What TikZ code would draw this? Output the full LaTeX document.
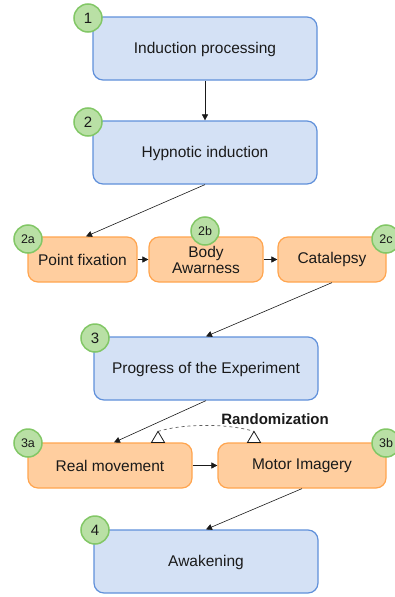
\documentclass[tikz,border=0pt]{standalone}
\usepackage{fontspec}
\setmainfont{Liberation Sans}
\usetikzlibrary{arrows.meta,calc}
\definecolor{bfill}{HTML}{D4E1F5}
\definecolor{bdraw}{HTML}{6090DA}
\definecolor{ofill}{HTML}{FFCE9F}
\definecolor{odraw}{HTML}{FFA54F}
\definecolor{gfill}{HTML}{B9E0A5}
\definecolor{gdraw}{HTML}{82C766}
\definecolor{txt}{HTML}{1A1A1A}
\begin{document}
\begin{tikzpicture}[x=1pt,y=-1pt,
  bluebox/.style={draw=bdraw,fill=bfill,line width=1.2pt,rounded corners=10pt,minimum width=224pt,minimum height=63pt,inner sep=0pt,text height=14pt,text depth=3.3pt,font=\fontsize{15.5}{16}\selectfont,text=txt},
  orangebox/.style={draw=odraw,fill=ofill,line width=1.2pt,rounded corners=10pt,minimum height=45pt,inner sep=0pt,align=center,font=\fontsize{15.5}{16}\selectfont,text=txt},
  badge/.style={circle,draw=gdraw,fill=gfill,line width=1.5pt,minimum size=28pt,inner sep=0pt,text=txt,font=\fontsize{15}{15}\selectfont},
  smallbadge/.style={badge,font=\fontsize{12.5}{13}\selectfont},
  conn/.style={draw=txt,line width=0.6pt,-{Triangle[length=6pt,width=6pt]}},
  opentri/.style={draw=txt,line width=0.8pt,fill=white}]
\useasboundingbox (0,0) rectangle (394,597);
% boxes
\node[bluebox] (b1) at (205,48.5) {Induction processing};
\node[bluebox] (b2) at (205,152.5) {Hypnotic induction};
\node[orangebox,minimum width=109pt] (a2) at (82.5,259.5) {\raisebox{-1pt}{Point fixation}};
\node[orangebox,minimum width=114pt] (b2b) at (206,259.5) {Body\\Awarness};
\node[orangebox,minimum width=108pt] (c2) at (332,259.5) {\raisebox{-1pt}{Catalepsy}};
\node[bluebox] (b3) at (206,368.5) {Progress of the Experiment};
\node[orangebox,minimum width=164pt] (a3) at (110,465.5) {\raisebox{-1pt}{Real movement}};
\node[orangebox,minimum width=168pt] (b3b) at (302,465.5) {\raisebox{-1pt}{Motor Imagery}};
\node[bluebox] (b4) at (206,561.5) {Awakening};
% badges
\node[badge] (n1) at (88,18) {1};
\node[badge] (n2) at (88,122) {2};
\node[smallbadge] (n2a) at (28,239) {2a};
\node[smallbadge] (n2b) at (205,231) {2b};
\node[smallbadge] (n2c) at (386,239) {2c};
\node[badge] (n3) at (95,338) {3};
\node[smallbadge] (n3a) at (28,443) {3a};
\node[smallbadge] (n3b) at (386,443) {3b};
\node[badge] (n4) at (95,530) {4};
% connectors
\draw[conn] (b1.south) -- (b2.north);
\draw[conn] (b2.south) -- ($(a2.north)+(3.5,0)$);
\draw[conn] (a2.east) -- (b2b.west);
\draw[conn] (b2b.east) -- (c2.west);
\draw[conn] (c2.south) -- (b3.north);
\draw[conn] (b3.south) -- ($(a3.north)+(4,0)$);
\draw[conn] (a3.east) -- (b3b.west);
\draw[conn] (b3b.south) -- (b4.north);
% randomization
\coordinate (L) at ($(a3.north)+(48,-11)$);
\coordinate (R) at ($(b3b.north)+(-48,-11)$);
\draw[txt!70,dashed,line width=0.7pt] (L) .. controls ($(L)+(26,-8)$) and ($(R)+(-26,-8)$) .. (R);
\draw[opentri] (L) -- ++(-6.5,11) -- ++(13,0) -- cycle;
\draw[opentri] (R) -- ++(-6.5,11) -- ++(13,0) -- cycle;
\node[font=\bfseries\fontsize{15}{15}\selectfont,text=txt] (rand) at (275,419) {Randomization};
\end{tikzpicture}
\end{document}
